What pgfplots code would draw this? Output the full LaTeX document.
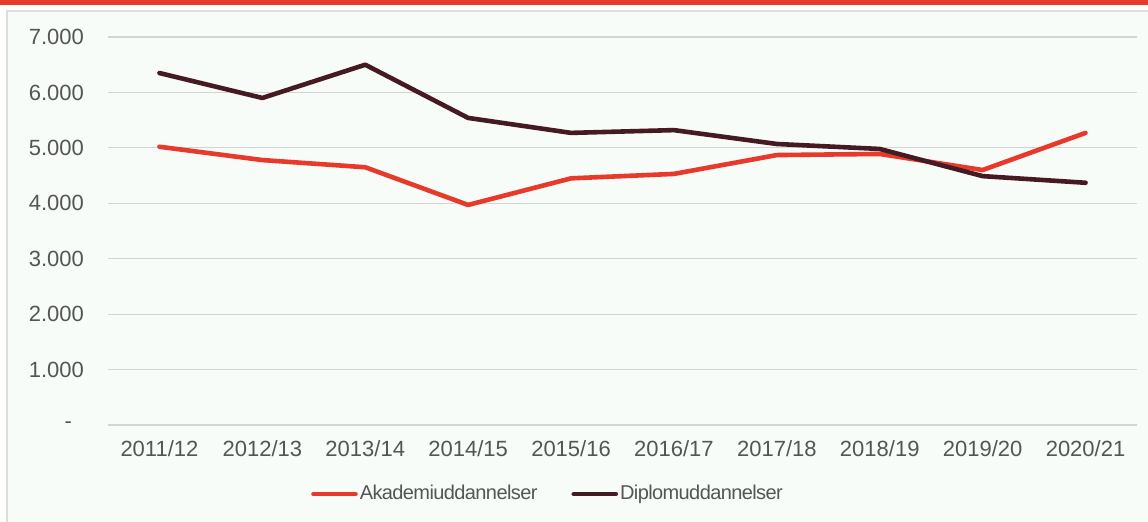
\documentclass[border=0pt]{standalone}
\usepackage{pgfplots}
\pgfplotsset{compat=1.18}
\usepackage{fontspec}
\setmainfont{Liberation Sans}
\newfontfamily\legfont[LetterSpace=-3]{Liberation Sans}
\definecolor{akared}{HTML}{E83A2A}
\definecolor{dipdark}{HTML}{461A23}
\definecolor{txtgray}{HTML}{555555}
\definecolor{gridgray}{HTML}{D4D4D4}
\definecolor{bgmint}{HTML}{F7FCF9}
\definecolor{framegray}{HTML}{DDDDDD}

\begin{document}
\begin{tikzpicture}
% page is 1148x522 px at 0.5pt per px, origin at the plot's lower left corner
\useasboundingbox (-54pt,-48.5pt) rectangle (520pt,212.5pt);
\fill[white] (-54pt,-48.5pt) rectangle (520pt,212.5pt);
\filldraw[fill=bgmint, draw=framegray, line width=0.6pt] (-50.5pt,-70pt) rectangle (540pt,207pt);
\fill[akared] (-54pt,210.2pt) rectangle (520pt,213pt);

\begin{axis}[
  at={(0pt,0pt)}, anchor=south west,
  scale only axis, width=514.5pt, height=194pt,
  xmin=-0.5, xmax=9.5, ymin=0, ymax=7000,
  axis line style={draw=none},
  major tick length=0pt,
  ymajorgrids, grid style={gridgray, line width=0.6pt},
  xtick={0,...,9},
  xticklabels={2011/12,2012/13,2013/14,2014/15,2015/16,2016/17,2017/18,2018/19,2019/20,2020/21},
  ytick={0,1000,...,7000},
  yticklabels={-\hspace*{6pt},1.000,2.000,3.000,4.000,5.000,6.000,7.000},
  tick label style={font=\fontsize{11pt}{13pt}\selectfont, text=txtgray},
  xticklabel style={yshift=-4.2pt},
  yticklabel style={xshift=-8.5pt},
  legend columns=2,
  legend style={at={(0.4276,-0.178)}, anchor=center, draw=none, fill=none,
    font=\legfont\fontsize{10pt}{12pt}\selectfont, text=txtgray,
    nodes={inner sep=1pt},
    /tikz/every even column/.append style={column sep=16pt},
    inner sep=0pt},
  legend image code/.code={\draw[#1, line cap=round] (0pt,0pt) -- (21pt,0pt);},
  every axis plot/.append style={line width=2.3pt, line join=round, line cap=round},
]
\addplot[color=akared] coordinates {
(0,5020) (1,4780) (2,4650) (3,3970) (4,4450)
(5,4530) (6,4870) (7,4890) (8,4600) (9,5270)
};
\addplot[color=dipdark] coordinates {
(0,6350) (1,5900) (2,6500) (3,5540) (4,5270)
(5,5320) (6,5070) (7,4980) (8,4490) (9,4370)
};
\legend{Akademiuddannelser,Diplomuddannelser}
\end{axis}
\end{tikzpicture}
\end{document}
